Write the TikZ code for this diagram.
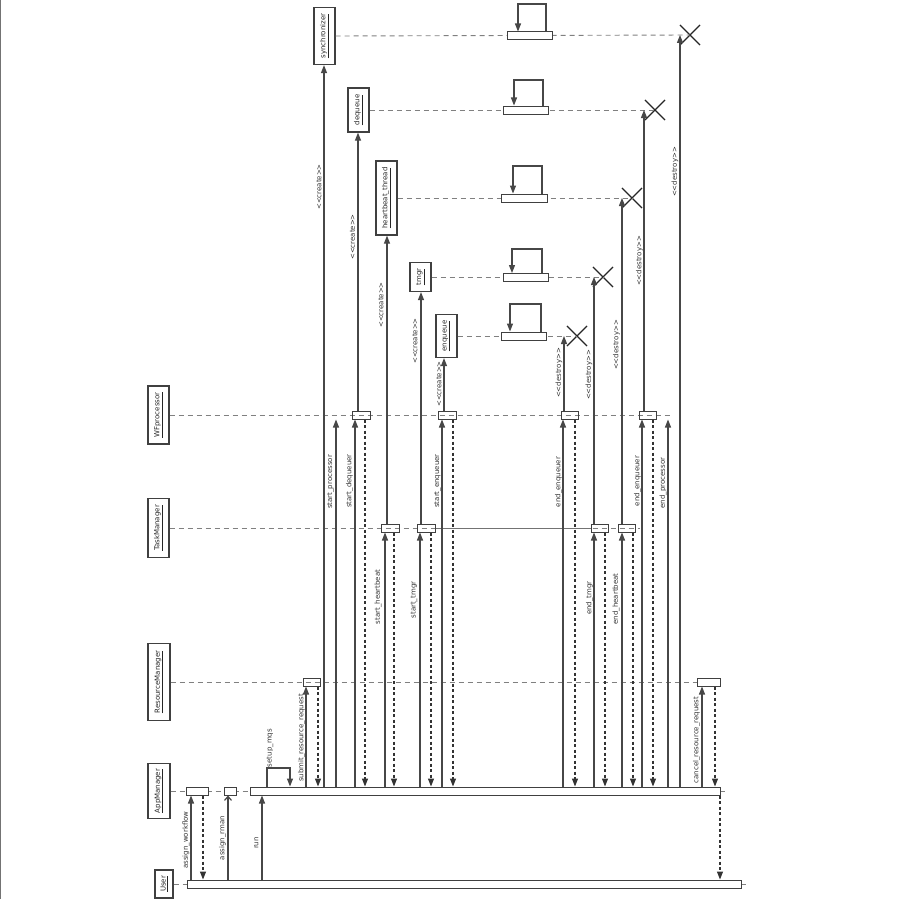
\documentclass[tikz,border=0pt]{standalone}
\usepackage{fontspec}
\usepackage{graphicx}
\newfontfamily\dv{DejaVu Sans}
\usetikzlibrary{arrows.meta,shapes.misc}
\begin{document}
\begin{tikzpicture}[x=1pt,y=-1pt,
  obj/.style={draw=black!75,line width=1.2pt,inner sep=0pt,font=\dv\fontsize{7}{8}\selectfont,text=black!85},
  act/.style={draw=black!75,line width=1pt,inner sep=0pt,minimum height=8pt},
  wact/.style={act,fill=white},
  life/.style={draw=black!50,line width=0.9pt,dash pattern=on 5pt off 4pt},
  call/.style={draw=black!72,line width=1.2pt,-{Triangle[length=8pt,width=6pt]}},
  ocall/.style={draw=black!72,line width=1.2pt,-{Straight Barb[length=4pt,width=7pt]}},
  ret/.style={draw=black!80,line width=1.2pt,dash pattern=on 3pt off 2.5pt,-{Triangle[length=8pt,width=6pt]}},
  lbl/.style={rotate=90,inner sep=0pt,font=\dv\fontsize{7}{8}\selectfont,text=black!80},
  kill/.style={draw=black!85,line width=1.1pt,cross out,minimum size=19pt,inner sep=0pt}]
\useasboundingbox (0,0) rectangle (900,899);
\draw[black!55,line width=1.2pt] (0.6,0) -- (0.6,899);

% objects
\node[obj,minimum width=18pt,minimum height=28pt] (oU) at (164,884) {\rotatebox{90}{\underline{User}}};
\node[obj,minimum width=22pt,minimum height=55pt] (oAM) at (159,791) {\rotatebox{90}{\underline{AppManager}}};
\node[obj,minimum width=22pt,minimum height=77pt] (oRM) at (159,682) {\rotatebox{90}{\underline{ResourceManager}}};
\node[obj,minimum width=21pt,minimum height=59pt] (oTM) at (158.5,528) {\rotatebox{90}{\underline{TaskManager}}};
\node[obj,minimum width=21pt,minimum height=58pt] (oWF) at (158.5,415) {\rotatebox{90}{\underline{WFprocessor}}};
\node[obj,minimum width=21pt,minimum height=57pt] (oSY) at (324.5,36) {\rotatebox{90}{\underline{synchronizer}}};
\node[obj,minimum width=21pt,minimum height=44pt] (oDQ) at (358.5,110) {\rotatebox{90}{\underline{dequeue}}};
\node[obj,minimum width=21pt,minimum height=74pt] (oHB) at (386.5,198) {\rotatebox{90}{\underline{heartbeat\_thread}}};
\node[obj,minimum width=21pt,minimum height=29pt] (oTG) at (420.5,277) {\rotatebox{90}{\underline{tmgr}}};
\node[obj,minimum width=21pt,minimum height=43pt] (oEQ) at (446.5,336) {\rotatebox{90}{\underline{enqueue}}};

% destruction marks
\node[kill] (xSY) at (690,35) {};
\node[kill] (xDQ) at (655,110) {};
\node[kill] (xHB) at (632,198) {};
\node[kill] (xTG) at (603,277) {};
\node[kill] (xEQ) at (577,336) {};

% lifelines
\draw[life] (oU.east) -- (746,884);
\draw[life] (oAM.east) -- (726,791);
\draw[life] (oRM.east) -- (720,682);
\draw[life] (oTM.east) -- (640,528);
\draw[draw=black!55,line width=0.8pt] (435,528) -- (591,528);
\draw[life] (oWF.east) -- (671,415);
\draw[life] (oSY.east) -- (xSY.center);
\draw[life] (oDQ.east) -- (xDQ.center);
\draw[life] (oHB.east) -- (xHB.center);
\draw[life] (oTG.east) -- (xTG.center);
\draw[life] (oEQ.east) -- (xEQ.center);

% activation bars
\node[wact,minimum width=554pt] (bU) at (464,884) {};
\node[wact,minimum width=22pt] (bA0) at (197,791) {};
\node[wact,minimum width=12pt] (bA1) at (230,791) {};
\node[wact,minimum width=470pt] (bA) at (485,791) {};
\node[act,minimum width=17pt] (bR1) at (311.5,682) {};
\node[wact,minimum width=23pt] (bR2) at (708.5,682) {};
\node[act,minimum width=18pt] (bT1) at (390,528) {};
\node[act,minimum width=18pt] (bT2) at (426,528) {};
\node[act,minimum width=17pt] (bT3) at (599.5,528) {};
\node[act,minimum width=17pt] (bT4) at (626.5,528) {};
\node[act,minimum width=18pt] (bW1) at (361,415) {};
\node[act,minimum width=18pt] (bW2) at (447,415) {};
\node[act,minimum width=17pt] (bW3) at (569.5,415) {};
\node[act,minimum width=17pt] (bW4) at (647.5,415) {};
\node[wact,minimum width=45pt] (bSY) at (529.5,36) {};
\node[wact,minimum width=45pt] (bDQ) at (525.5,110) {};
\node[wact,minimum width=46pt] (bHB) at (524,198) {};
\node[wact,minimum width=45pt] (bTG) at (525.5,277.5) {};
\node[wact,minimum width=45pt] (bEQ) at (523.5,336) {};

% self messages
\draw[call] (546,0 |- bSY.north) |- (518,4) -- (518,0 |- bSY.north);
\draw[call] (543,0 |- bDQ.north) |- (514,80) -- (514,0 |- bDQ.north);
\draw[call] (542,0 |- bHB.north) |- (513,166) -- (513,0 |- bHB.north);
\draw[call] (542,0 |- bTG.north) |- (512,249) -- (512,0 |- bTG.north);
\draw[call] (541,0 |- bEQ.north) |- (510,304) -- (510,0 |- bEQ.north);
\draw[call] (267,0 |- bA.north) |- (290,768) -- (290,0 |- bA.north);

% User -> AppManager
\draw[call] (191,0 |- bU.north) -- (191,0 |- bA0.south);
\draw[ret] (203,0 |- bA0.south) -- (203,0 |- bU.north);
\draw[ocall] (228,0 |- bU.north) -- (228,0 |- bA1.south);
\draw[call] (262,0 |- bU.north) -- (262,0 |- bA.south);
\draw[ret] (720,0 |- bA.south) -- (720,0 |- bU.north);

% AppManager -> ResourceManager
\draw[call] (306,0 |- bA.north) -- (306,0 |- bR1.south);
\draw[ret] (318,0 |- bR1.south) -- (318,0 |- bA.north);
\draw[call] (702,0 |- bA.north) -- (702,0 |- bR2.south);
\draw[ret] (715,0 |- bR2.south) -- (715,0 |- bA.north);

% synchronizer
\draw[call] (324,0 |- bA.north) -- (324,0 |- oSY.south);
\draw[call] (680,0 |- bA.north) -- (680,0 |- xSY.center);

% WFprocessor calls
\draw[call] (336,0 |- bA.north) -- (336,0 |- bW1.south);
\draw[call] (355,0 |- bA.north) -- (355,0 |- bW1.south);
\draw[ret] (365,0 |- bW1.south) -- (365,0 |- bA.north);
\draw[call] (358,0 |- bW1.north) -- (358,0 |- oDQ.south);
\draw[call] (442,0 |- bA.north) -- (442,0 |- bW2.south);
\draw[ret] (453,0 |- bW2.south) -- (453,0 |- bA.north);
\draw[call] (444,0 |- bW2.north) -- (444,0 |- oEQ.south);
\draw[call] (563,0 |- bA.north) -- (563,0 |- bW3.south);
\draw[ret] (575,0 |- bW3.south) -- (575,0 |- bA.north);
\draw[call] (564,0 |- bW3.north) -- (564,0 |- xEQ.center);
\draw[call] (642,0 |- bA.north) -- (642,0 |- bW4.south);
\draw[ret] (653,0 |- bW4.south) -- (653,0 |- bA.north);
\draw[call] (644,0 |- bW4.north) -- (644,0 |- xDQ.center);
\draw[call] (668,0 |- bA.north) -- (668,0 |- bW4.south);

% TaskManager calls
\draw[call] (385,0 |- bA.north) -- (385,0 |- bT1.south);
\draw[ret] (394,0 |- bT1.south) -- (394,0 |- bA.north);
\draw[call] (387,0 |- bT1.north) -- (387,0 |- oHB.south);
\draw[call] (420,0 |- bA.north) -- (420,0 |- bT2.south);
\draw[ret] (431,0 |- bT2.south) -- (431,0 |- bA.north);
\draw[call] (421,0 |- bT2.north) -- (421,0 |- oTG.south);
\draw[call] (594,0 |- bA.north) -- (594,0 |- bT3.south);
\draw[ret] (605,0 |- bT3.south) -- (605,0 |- bA.north);
\draw[call] (594,0 |- bT3.north) -- (594,0 |- xTG.center);
\draw[call] (622,0 |- bA.north) -- (622,0 |- bT4.south);
\draw[ret] (633,0 |- bT4.south) -- (633,0 |- bA.north);
\draw[call] (622,0 |- bT4.north) -- (622,0 |- xHB.center);

% labels
\node[lbl] (l1) at (186,840) {assign\_workflow};
\node[lbl] (l2) at (222.5,838) {assign\_rman};
\node[lbl] (l3) at (256.5,843) {run};
\node[lbl] (l4) at (270,748) {setup\_mqs};
\node[lbl] (l5) at (301.5,738) {submit\_resource\_request};
\node[lbl] (l6) at (319,187) {<<create>>};
\node[lbl] (l7) at (330.5,482) {start\_processor};
\node[lbl] (l8) at (349.5,481) {start\_dequeuer};
\node[lbl] (l9) at (352.5,237) {<<create>>};
\node[lbl] (l10) at (378,597) {start\_heartbeat};
\node[lbl] (l11) at (381,305) {<<create>>};
\node[lbl] (l12) at (414,600) {start\_tmgr};
\node[lbl] (l13) at (415,341) {<<create>>};
\node[lbl] (l14) at (437.5,481) {start\_enqueuer};
\node[lbl] (l15) at (439,384) {<<create>>};
\node[lbl] (l16) at (558.5,482) {end\_enqueuer};
\node[lbl] (l17) at (559,373) {<<destroy>>};
\node[lbl] (l18) at (589.5,598) {end\_tmgr};
\node[lbl] (l19) at (589,375) {<<destroy>>};
\node[lbl] (l20) at (616,599) {end\_heartbeat};
\node[lbl] (l21) at (616.5,345) {<<destroy>>};
\node[lbl] (l22) at (637.5,481) {end\_enqueuer};
\node[lbl] (l23) at (639.5,261) {<<destroy>>};
\node[lbl] (l24) at (663,483) {end\_processor};
\node[lbl] (l25) at (675,172) {<<destroy>>};
\node[lbl] (l26) at (696.5,740) {cancel\_resource\_request};
\end{tikzpicture}
\end{document}
